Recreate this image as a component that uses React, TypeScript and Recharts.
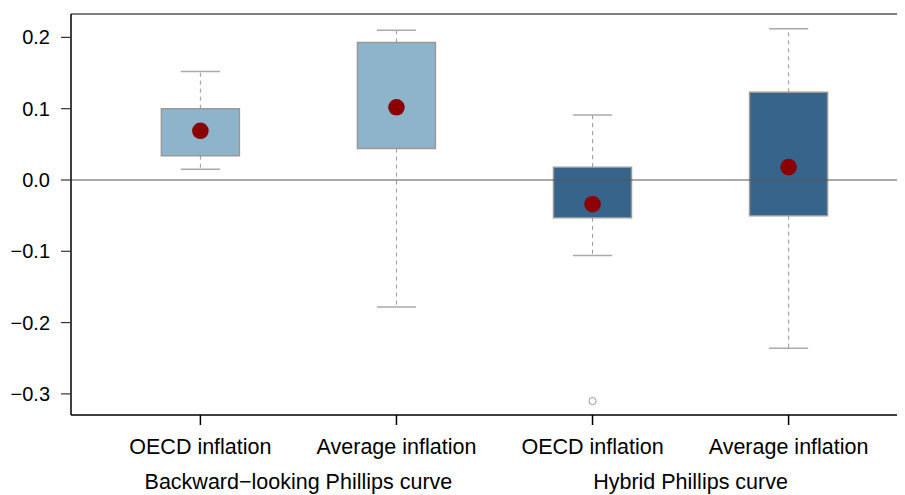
import React from "react";
import {
  ComposedChart,
  Bar,
  Cell,
  Scatter,
  XAxis,
  YAxis,
  ReferenceLine,
} from "recharts";

const categories = ["OECD inflation", "Average inflation", "OECD inflation", "Average inflation"];
const groups = ["Backward\u2212looking Phillips curve", "Hybrid Phillips curve"];
const groupPositions = [1.5, 3.5];
const lowerWhisker = [0.015, -0.178, -0.106, -0.236];
const q1 = [0.034, 0.044, -0.053, -0.05];
const q3 = [0.1, 0.193, 0.018, 0.123];
const upperWhisker = [0.152, 0.21, 0.091, 0.212];
const centerValues = [0.069, 0.102, -0.034, 0.018];
const outlierCategory = [3];
const outlierValues = [-0.31];
const boxColors = ["#8db4cb", "#8db4cb", "#36648b", "#36648b"];
const yTicks = [-0.3, -0.2, -0.1, 0, 0.1, 0.2];

const X_DOMAIN: [number, number] = [0.34, 4.66];
const Y_DOMAIN: [number, number] = [-0.3296, 0.2328];

const boxData = categories.map((c, i) => ({ x: i + 1, box: [q1[i], q3[i]] }));
const centerData = centerValues.map((v, i) => ({ x: i + 1, y: v }));
const outlierData = outlierValues.map((v, i) => ({ x: outlierCategory[i], y: v }));

const FONT = "'Liberation Sans', Arial, Helvetica, sans-serif";

const fmt = (v: number) => {
  const s = Math.abs(v).toFixed(1);
  return v < -1e-9 ? "\u2212" + s : s;
};

export default function App() {
  return (
    <div style={{ width: 897, height: 487, overflow: "hidden" }}>
      <ComposedChart
        width={910}
        height={487}
        data={boxData}
        margin={{ top: 6, right: 0, bottom: 0, left: 0 }}
      >
        <XAxis
          dataKey="x"
          type="number"
          domain={X_DOMAIN}
          allowDataOverflow
          ticks={[1, 2, 3, 4]}
          interval={0}
          tickFormatter={(v: number) => categories[Math.round(v) - 1]}
          height={42}
          tickSize={10}
          tickMargin={14}
          stroke="#000"
          tick={{ fill: "#000", fontSize: 21.5, fontFamily: FONT }}
          axisLine={{ stroke: "#000", strokeWidth: 1.5 }}
          tickLine={{ stroke: "#000", strokeWidth: 1.5 }}
        />
        <XAxis
          xAxisId="grp"
          dataKey="x"
          type="number"
          domain={X_DOMAIN}
          allowDataOverflow
          ticks={groupPositions}
          interval={0}
          tickFormatter={(v: number) => groups[groupPositions.indexOf(v)]}
          height={38}
          tickSize={0}
          tickMargin={17}
          axisLine={false}
          tickLine={false}
          tick={{ fill: "#000", fontSize: 21.5, fontFamily: FONT }}
        />
        <YAxis
          type="number"
          domain={Y_DOMAIN}
          allowDataOverflow
          ticks={yTicks}
          interval={0}
          tickFormatter={fmt}
          width={63}
          tickSize={10}
          tickMargin={11}
          tick={{ fill: "#000", fontSize: 20, fontFamily: FONT }}
          axisLine={{ stroke: "#000", strokeWidth: 1.5 }}
          tickLine={{ stroke: "#333", strokeWidth: 1.2 }}
        />
        <ReferenceLine y={Y_DOMAIN[1]} stroke="#555" strokeWidth={1.5} />
        {categories.map((c, i) => (
          <ReferenceLine
            key={"wu" + i}
            segment={[
              { x: i + 1, y: q3[i] },
              { x: i + 1, y: upperWhisker[i] },
            ]}
            stroke="#999"
            strokeDasharray="4 4"
            strokeWidth={1}
          />
        ))}
        {categories.map((c, i) => (
          <ReferenceLine
            key={"wl" + i}
            segment={[
              { x: i + 1, y: q1[i] },
              { x: i + 1, y: lowerWhisker[i] },
            ]}
            stroke="#999"
            strokeDasharray="4 4"
            strokeWidth={1}
          />
        ))}
        {categories.map((c, i) => (
          <ReferenceLine
            key={"cu" + i}
            segment={[
              { x: i + 1 - 0.1, y: upperWhisker[i] },
              { x: i + 1 + 0.1, y: upperWhisker[i] },
            ]}
            stroke="#aaa"
            strokeWidth={1.5}
          />
        ))}
        {categories.map((c, i) => (
          <ReferenceLine
            key={"cl" + i}
            segment={[
              { x: i + 1 - 0.1, y: lowerWhisker[i] },
              { x: i + 1 + 0.1, y: lowerWhisker[i] },
            ]}
            stroke="#aaa"
            strokeWidth={1.5}
          />
        ))}
        <Bar dataKey="box" barSize={78} isAnimationActive={false} stroke="#999" strokeWidth={1.5}>
          {boxData.map((d, i) => (
            <Cell key={i} fill={boxColors[i]} />
          ))}
        </Bar>
        <ReferenceLine y={0} stroke="#555" strokeWidth={1.2} />
        <Scatter
          data={outlierData}
          dataKey="y"
          isAnimationActive={false}
          shape={(p: any) => (
            <circle cx={p.cx} cy={p.cy} r={3.6} fill="none" stroke="#999" strokeWidth={1} />
          )}
        />
        <Scatter
          data={centerData}
          dataKey="y"
          isAnimationActive={false}
          shape={(p: any) => <circle cx={p.cx} cy={p.cy} r={8.3} fill="#8b0000" />}
        />
      </ComposedChart>
    </div>
  );
}
